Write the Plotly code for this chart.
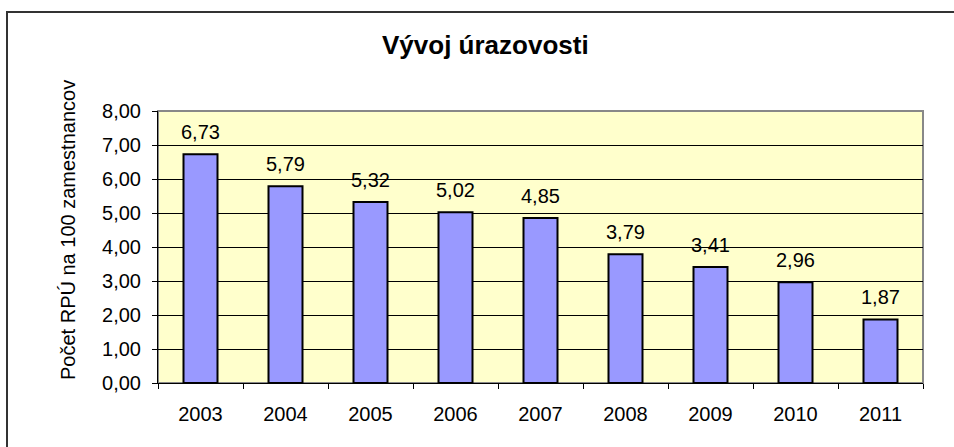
import plotly.graph_objects as go

years = ["2003", "2004", "2005", "2006", "2007", "2008", "2009", "2010", "2011"]
values = [6.73, 5.79, 5.32, 5.02, 4.85, 3.79, 3.41, 2.96, 1.87]
y_ticks = [0, 1, 2, 3, 4, 5, 6, 7, 8]

title_text = "Vývoj úrazovosti"
y_title = "Počet RPÚ na 100 zamestnancov"

W, H = 954, 447
L, R, T, B = 158, 31, 111, 64
pw = W - L - R
ph = H - T - B

FONT = "Liberation Sans, Arial, sans-serif"

fig = go.Figure()
fig.add_trace(go.Bar(
    x=years, y=values,
    marker=dict(color="#9999FF", line=dict(color="black", width=2)),
    width=0.4,
    hoverinfo="skip",
))

annotations = []
for i, v in enumerate(values):
    annotations.append(dict(
        x=i, y=v, xref="x", yref="y", text=f"{v:.2f}".replace(".", ","),
        showarrow=False, yanchor="bottom", yshift=9,
        font=dict(family=FONT, size=20, color="black"),
    ))

annotations.append(dict(
    x=(68 - L) / pw, y=(H - 230 - B) / ph, xref="paper", yref="paper",
    text=y_title, textangle=-90, showarrow=False,
    xanchor="center", yanchor="middle",
    font=dict(family=FONT, size=20, color="black"),
))

annotations.append(dict(
    x=(485 - L) / pw, y=(H - 45 - B) / ph, xref="paper", yref="paper",
    text="<b>" + title_text + "</b>", showarrow=False,
    xanchor="center", yanchor="middle",
    font=dict(family=FONT, size=26, color="black"),
))

shapes = [
    # outer chart border (right/bottom edges fall outside the picture)
    dict(type="rect", xref="paper", yref="paper",
         x0=(7 - L) / pw, x1=(970 - L) / pw,
         y0=(H - 470 - B) / ph, y1=(H - 12 - B) / ph,
         line=dict(color="#333333", width=2), layer="below"),
    # plot area border
    dict(type="rect", xref="paper", yref="paper", x0=0, x1=1, y0=0, y1=1,
         line=dict(color="#888888", width=2), layer="below"),
]

fig.update_layout(
    width=W, height=H,
    margin=dict(l=L, r=R, t=T, b=B),
    paper_bgcolor="white",
    plot_bgcolor="#FFFFCC",
    separators=", ",
    showlegend=False,
    bargap=0.6,
    annotations=annotations,
    shapes=shapes,
    font=dict(family=FONT, size=20, color="black"),
)

fig.update_xaxes(
    type="category",
    range=[-0.5, len(years) - 0.5],
    showline=True, linecolor="black", linewidth=1,
    ticks="outside", ticklen=5, tickcolor="black", tickson="boundaries",
    showgrid=False,
    tickfont=dict(family=FONT, size=20, color="black"),
    ticklabelstandoff=13,
)

fig.update_yaxes(
    range=[0, 8],
    tickvals=y_ticks, tickformat=".2f",
    showline=True, linecolor="black", linewidth=1,
    ticks="outside", ticklen=5, tickcolor="black",
    showgrid=True, gridcolor="black", gridwidth=1,
    zeroline=False,
    tickfont=dict(family=FONT, size=20, color="black"),
    ticklabelstandoff=7,
)

fig.write_html(
    "out.html",
    config={"displayModeBar": False},
    post_script="document.body.style.margin='0';document.body.style.overflow='hidden';",
)
